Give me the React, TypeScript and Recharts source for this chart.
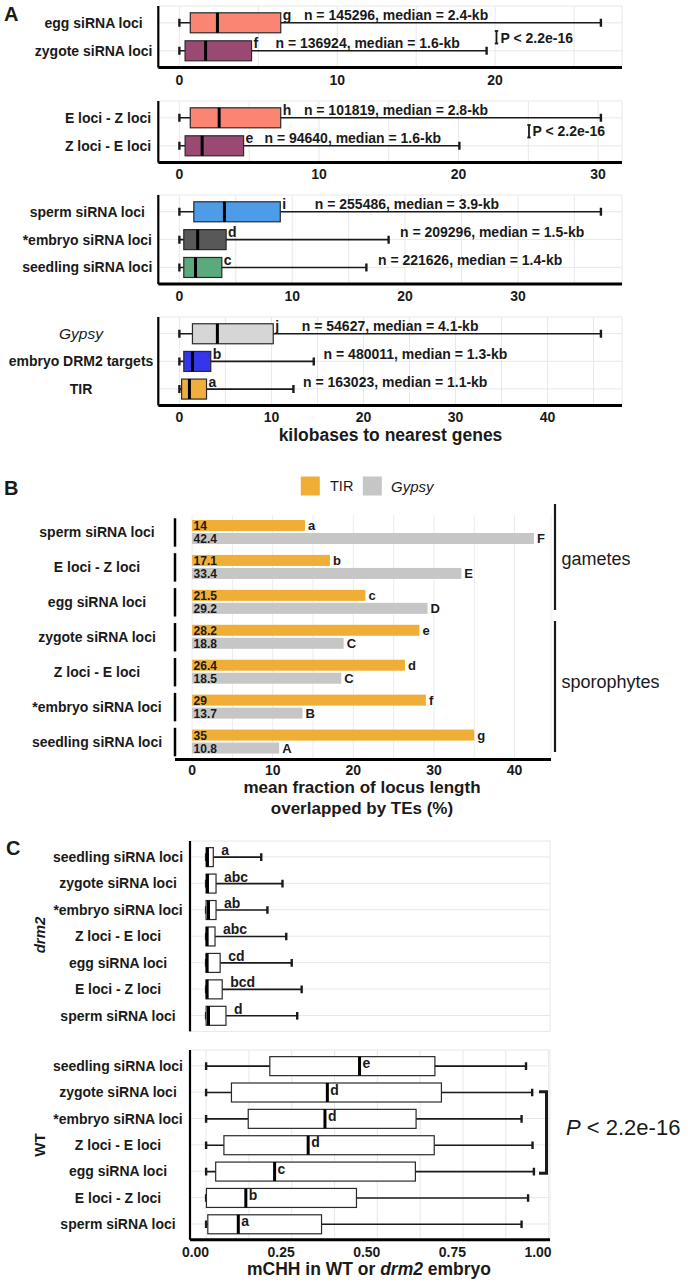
import React from 'react';
import { ComposedChart, Bar, XAxis, YAxis, CartesianGrid } from 'recharts';

const FONT = "'Liberation Sans', Arial, Helvetica, sans-serif";
const INK = '#1a1a1a';

// ---------------- Panel A : kilobases to nearest genes ----------------
const a1Cats = ['egg siRNA loci', 'zygote siRNA loci'];
const a1Low = [0, 0];
const a1Q1 = [0.69, 0.36];
const a1Median = [2.41, 1.66];
const a1Q3 = [6.42, 4.57];
const a1High = [26.7, 19.46];
const a1Letters = ['g', 'f'];
const a1Notes = ['n = 145296, median = 2.4-kb', 'n = 136924, median = 1.6-kb'];
const a1NoteKb = [7.89, 6.09];

const a2Cats = ['E loci - Z loci', 'Z loci - E loci'];
const a2Low = [0, 0];
const a2Q1 = [0.78, 0.41];
const a2Median = [2.85, 1.63];
const a2Q3 = [7.26, 4.6];
const a2High = [30.2, 20.06];
const a2Letters = ['h', 'e'];
const a2Notes = ['n = 101819, median = 2.8-kb', 'n = 94640, median = 1.6-kb'];
const a2NoteKb = [8.92, 6.1];

const a3Cats = ['sperm siRNA loci', '*embryo siRNA loci', 'seedling siRNA loci'];
const a3Low = [0, 0, 0];
const a3Q1 = [1.28, 0.39, 0.39];
const a3Median = [3.99, 1.62, 1.43];
const a3Q3 = [8.94, 4.14, 3.76];
const a3High = [37.35, 18.54, 16.57];
const a3Letters = ['i', 'd', 'c'];
const a3Notes = ['n = 255486, median = 3.9-kb', 'n = 209296, median = 1.5-kb', 'n = 221626, median = 1.4-kb'];
const a3NoteKb = [12.0, 19.55, 17.6];

const a4Cats = ['Gypsy', 'embryo DRM2 targets', 'TIR'];
const a4Low = [0, 0, 0];
const a4Q1 = [1.42, 0.48, 0.24];
const a4Median = [4.13, 1.42, 1.09];
const a4Q3 = [10.2, 3.41, 2.95];
const a4High = [45.8, 14.6, 12.39];
const a4Letters = ['j', 'b', 'a'];
const a4Notes = ['n = 54627, median = 4.1-kb', 'n = 480011, median = 1.3-kb', 'n = 163023, median = 1.1-kb'];
const a4NoteKb = [13.3, 15.67, 13.43];

const a1Ticks = [0, 5, 10, 15, 20, 25];
const a2Ticks = [0, 5, 10, 15, 20, 25, 30];
const a3Ticks = [0, 5, 10, 15, 20, 25, 30, 35];
const a4Ticks = [0, 5, 10, 15, 20, 25, 30, 35, 40, 45];
const a1TickLabels = [0, 10, 20];
const a2TickLabels = [0, 10, 20, 30];
const a3TickLabels = [0, 10, 20, 30];
const a4TickLabels = [0, 10, 20, 30, 40];

// ---------------- Panel B : TE overlap ----------------
const bCats = ['sperm siRNA loci', 'E loci - Z loci', 'egg siRNA loci', 'zygote siRNA loci', 'Z loci - E loci', '*embryo siRNA loci', 'seedling siRNA loci'];
const bTIR = [14, 17.1, 21.5, 28.2, 26.4, 29, 35];
const bGypsy = [42.4, 33.4, 29.2, 18.8, 18.5, 13.7, 10.8];
const bTIRLetters = ['a', 'b', 'c', 'e', 'd', 'f', 'g'];
const bGypsyLetters = ['F', 'E', 'D', 'C', 'C', 'B', 'A'];
const bTicks = [0, 5, 10, 15, 20, 25, 30, 35, 40];
const bTickLabels = [0, 10, 20, 30, 40];

// ---------------- Panel C : mCHH ----------------
const cCats = ['seedling siRNA loci', 'zygote siRNA loci', '*embryo siRNA loci', 'Z loci - E loci', 'egg siRNA loci', 'E loci - Z loci', 'sperm siRNA loci'];
const cDrmLow = [0, 0, 0, 0, 0, 0, 0];
const cDrmQ1 = [0, 0, 0, 0, 0, 0, 0];
const cDrmMedian = [0.004, 0.004, 0.007, 0.003, 0.003, 0.003, 0.007];
const cDrmQ3 = [0.021, 0.029, 0.029, 0.026, 0.041, 0.047, 0.058];
const cDrmHigh = [0.161, 0.223, 0.179, 0.234, 0.25, 0.279, 0.266];
const cDrmLetters = ['a', 'abc', 'ab', 'abc', 'cd', 'bcd', 'd'];
const cWtLow = [0, 0, 0, 0, 0, 0, 0];
const cWtQ1 = [0.186, 0.074, 0.123, 0.052, 0.028, 0.001, 0.005];
const cWtMedian = [0.448, 0.354, 0.347, 0.298, 0.2, 0.116, 0.094];
const cWtQ3 = [0.668, 0.687, 0.613, 0.666, 0.611, 0.439, 0.337];
const cWtHigh = [0.934, 0.952, 0.921, 0.953, 0.957, 0.94, 0.921];
const cWtLetters = ['e', 'd', 'd', 'd', 'c', 'b', 'a'];
const cTicks = [0, 0.125, 0.25, 0.375, 0.5, 0.625, 0.75, 0.875, 1];
const cTickLabels = [0, 0.25, 0.5, 0.75, 1];
const cDomain: [number, number] = [-0.047, 1.004];

// ---------------- styles ----------------
const a1Fills = ['#F98572', '#9A4A72'];
const a2Fills = ['#F98572', '#9A4A72'];
const a3Fills = ['#4C9CE8', '#585858', '#5CA97D'];
const a4Fills = ['#D6D6D6', '#3535EA', '#F2AE3C'];
const TIR_COLOR = '#F1AE36';
const GYPSY_COLOR = '#C6C6C6';

type Row = { name: string; lo: number; q1: number; med: number; q3: number; hi: number; letter: string; note?: string; noteAt?: number };

function makeRows(cats: string[], lo: number[], q1: number[], med: number[], q3: number[], hi: number[], letters: string[], notes?: string[], noteAt?: number[]): Row[] {
  return cats.map((name, i) => ({
    name, lo: lo[i], q1: q1[i], med: med[i], q3: q3[i], hi: hi[i], letter: letters[i],
    note: notes ? notes[i] : undefined, noteAt: noteAt ? noteAt[i] : undefined,
  }));
}

const expand = (max: number): [number, number] => [-0.05 * max, 1.05 * max];

function makeXTick(labels: number[], align: 'middle' | 'end', fmt: (v: number) => string, dy: number) {
  return (props: any) => {
    const { x, y, payload } = props;
    const v = payload.value;
    if (!labels.some((l) => Math.abs(l - v) < 1e-9)) return <g />;
    return (
      <text x={align === 'end' ? x + 3 : x} y={y + dy} textAnchor={align} dominantBaseline="central"
        fontFamily={FONT} fontWeight="bold" fontSize={14} fill={INK}>{fmt(v)}</text>
    );
  };
}

function makeYTick(centerX: number, italic: string[], facet?: { x: number; half: number }) {
  return (props: any) => {
    const { y, payload } = props;
    const it = italic.includes(payload.value);
    return (
      <g>
        <text x={centerX} y={y} textAnchor="middle" dominantBaseline="central" fontFamily={FONT}
          fontWeight={it ? 'normal' : 'bold'} fontStyle={it ? 'italic' : 'normal'} fontSize={it ? 15.5 : 14} fill={INK}>
          {payload.value}
        </text>
        {facet ? <line x1={facet.x} x2={facet.x} y1={y - facet.half} y2={y + facet.half} stroke="#000" strokeWidth={2.5} /> : null}
      </g>
    );
  };
}

type LetterMode = 'q3' | 'median' | 'q3gap';

function makeBoxShape(fills: string[], mode: LetterMode, capFrac: number) {
  return (props: any) => {
    const { x, y, width, height, payload, index } = props;
    const r: Row = payload;
    const px = (v: number) => x + ((v - r.lo) / (r.hi - r.lo)) * width;
    const cy = y + height / 2;
    const cap = height * capFrac;
    const xq1 = px(r.q1);
    const xq3 = px(r.q3);
    const xm = px(r.med);
    let lx = xq3 + 2;
    let ly = cy - 7.5;
    if (mode === 'median') { lx = xm + 3; ly = cy - 3; }
    if (mode === 'q3gap') { lx = xq3 + 8; ly = cy - 7; }
    return (
      <g>
        <line x1={px(r.lo)} x2={px(r.hi)} y1={cy} y2={cy} stroke={INK} strokeWidth={1.6} />
        <line x1={px(r.lo)} x2={px(r.lo)} y1={cy - cap / 2} y2={cy + cap / 2} stroke={INK} strokeWidth={2.4} />
        <line x1={px(r.hi)} x2={px(r.hi)} y1={cy - cap / 2} y2={cy + cap / 2} stroke={INK} strokeWidth={2.4} />
        <rect x={xq1} y={y} width={Math.max(xq3 - xq1, 0.5)} height={height} fill={fills[index % fills.length]} stroke="#2a2a2a" strokeWidth={1.2} />
        <line x1={xm} x2={xm} y1={y} y2={y + height} stroke="#000" strokeWidth={3} />
        <text x={lx} y={ly} dominantBaseline="central" fontFamily={FONT} fontWeight="bold" fontSize={14} fill={INK}>{r.letter}</text>
        {r.note && r.noteAt !== undefined ? (
          <text x={px(r.noteAt)} y={cy - 7.5} dominantBaseline="central" fontFamily={FONT} fontWeight="bold" fontSize={14} fill={INK}>{r.note}</text>
        ) : null}
      </g>
    );
  };
}

type BoxProps = {
  rows: Row[]; plotTop: number; plotBottom: number; pitch: number; plotLeft: number; plotRight: number;
  domain: [number, number]; ticks: number[]; tickLabels: number[]; tickAlign: 'middle' | 'end'; fmt: (v: number) => string;
  labelCenter: number; fills: string[]; boxSize: number; showAxis: boolean; mode: LetterMode; italic?: string[]; tickDy: number;
};

function BoxChart(p: BoxProps) {
  const topM = 4;
  const axisH = p.showAxis ? 30 : 1;
  const H = p.plotBottom - p.plotTop + topM + axisH;
  return (
    <div style={{ position: 'absolute', left: 0, top: p.plotTop - topM }}>
      <ComposedChart width={692} height={H} data={p.rows} layout="vertical"
        margin={{ top: topM, right: 692 - p.plotRight, bottom: 0, left: 0 }}>
        <CartesianGrid stroke="#e8e8e8" strokeWidth={1} />
        <XAxis type="number" domain={p.domain} ticks={p.ticks} interval={0} allowDataOverflow height={axisH}
          axisLine={p.showAxis ? { stroke: '#000', strokeWidth: 3 } : false} tickLine={false} tickSize={0} tickMargin={0}
          tick={p.showAxis ? makeXTick(p.tickLabels, p.tickAlign, p.fmt, p.tickDy) : false} />
        <YAxis type="category" dataKey="name" width={p.plotLeft} padding={{ top: 0.1 * p.pitch, bottom: 0.1 * p.pitch }}
          axisLine={{ stroke: '#000', strokeWidth: 2.2 }} tickLine={false} tickSize={0} tickMargin={0} interval={0}
          tick={makeYTick(p.labelCenter, p.italic || [])} />
        <Bar dataKey={(d: Row) => [d.lo, d.hi]} barSize={p.boxSize} isAnimationActive={false}
          shape={makeBoxShape(p.fills, p.mode, 0.4)} />
      </ComposedChart>
    </div>
  );
}

function makeTeBar(key: 'tir' | 'gypsy', letters: string[]) {
  return (props: any) => {
    const { x, y, width, height, payload, index, fill } = props;
    const cy = y + height / 2;
    return (
      <g>
        <rect x={x} y={y} width={width} height={height} fill={fill} />
        <text x={x + 1.5} y={cy + 0.5} dominantBaseline="central" fontFamily={FONT} fontWeight="bold" fontSize={12} fill={INK}>{payload[key]}</text>
        <text x={x + width + 3} y={cy} dominantBaseline="central" fontFamily={FONT} fontWeight="bold" fontSize={13} fill={INK}>{letters[index]}</text>
      </g>
    );
  };
}

function TeChart() {
  const data = bCats.map((name, i) => ({ name, tir: bTIR[i], gypsy: bGypsy[i] }));
  const plotTop = 514.5;
  const plotBottom = 759;
  const topM = 4;
  const axisH = 24;
  const plotLeft = 175;
  const plotRight = 551;
  return (
    <div style={{ position: 'absolute', left: 0, top: plotTop - topM }}>
      <ComposedChart width={692} height={plotBottom - plotTop + topM + axisH} data={data} layout="vertical" barGap={2} barCategoryGap={0}
        margin={{ top: topM, right: 692 - plotRight, bottom: 0, left: 0 }}>
        <CartesianGrid stroke="#ececec" horizontal={false} />
        <XAxis type="number" domain={expand(Math.max(...bGypsy, ...bTIR))} ticks={bTicks} interval={0} allowDataOverflow height={axisH}
          axisLine={{ stroke: '#000', strokeWidth: 3 }} tickLine={false} tickSize={0} tickMargin={0}
          tick={makeXTick(bTickLabels, 'middle', (v) => String(v), 10)} />
        <YAxis type="category" dataKey="name" width={plotLeft} axisLine={false} tickLine={false} tickSize={0} tickMargin={0} interval={0}
          tick={makeYTick(97, [], { x: plotLeft, half: 14.2 })} />
        <Bar dataKey="tir" fill={TIR_COLOR} barSize={11} isAnimationActive={false} shape={makeTeBar('tir', bTIRLetters)} />
        <Bar dataKey="gypsy" fill={GYPSY_COLOR} barSize={11} isAnimationActive={false} shape={makeTeBar('gypsy', bGypsyLetters)} />
      </ComposedChart>
    </div>
  );
}

function Overlay() {
  const t = { fontFamily: FONT, fill: INK } as const;
  return (
    <svg width={692} height={1280} style={{ position: 'absolute', left: 0, top: 0, pointerEvents: 'none' }}>
      {/* panel letters */}
      <text x={4} y={13.5} dominantBaseline="central" fontSize={20} fontWeight="bold" {...t}>A</text>
      <text x={4} y={487.5} dominantBaseline="central" fontSize={20} fontWeight="bold" {...t}>B</text>
      <text x={6} y={847.5} dominantBaseline="central" fontSize={20} fontWeight="bold" {...t}>C</text>

      {/* panel A p-values */}
      <g stroke={INK} strokeWidth={1.8}>
        <line x1={496.5} x2={496.5} y1={31} y2={43.5} />
        <line x1={494.8} x2={498.2} y1={31} y2={31} />
        <line x1={494.8} x2={498.2} y1={43.5} y2={43.5} />
        <line x1={529} x2={529} y1={125} y2={137.5} />
        <line x1={527.3} x2={530.7} y1={125} y2={125} />
        <line x1={527.3} x2={530.7} y1={137.5} y2={137.5} />
      </g>
      <text x={500.5} y={37.5} dominantBaseline="central" fontSize={14} fontWeight="bold" {...t}>P &lt; 2.2e-16</text>
      <text x={532.5} y={131} dominantBaseline="central" fontSize={14} fontWeight="bold" {...t}>P &lt; 2.2e-16</text>
      <text x={390.5} y={435} textAnchor="middle" dominantBaseline="central" fontSize={17.5} fontWeight="bold" {...t}>kilobases to nearest genes</text>

      {/* panel B legend */}
      <rect x={300.8} y={476.5} width={19} height={19} fill={TIR_COLOR} />
      <text x={330} y={486} dominantBaseline="central" fontSize={14.5} {...t}>TIR</text>
      <rect x={362.8} y={476.5} width={19} height={19} fill={GYPSY_COLOR} />
      <text x={391} y={486} dominantBaseline="central" fontSize={15} fontStyle="italic" {...t}>Gypsy</text>

      {/* panel B group brackets */}
      <line x1={555} x2={555} y1={504} y2={610} stroke={INK} strokeWidth={2.2} />
      <line x1={555} x2={555} y1={621} y2={752} stroke={INK} strokeWidth={2.2} />
      <text x={561.5} y={559.3} dominantBaseline="central" fontSize={18} {...t}>gametes</text>
      <text x={561.5} y={682.3} dominantBaseline="central" fontSize={18} {...t}>sporophytes</text>
      <text x={362} y={787.5} textAnchor="middle" dominantBaseline="central" fontSize={17} fontWeight="bold" {...t}>mean fraction of locus length</text>
      <text x={362} y={808} textAnchor="middle" dominantBaseline="central" fontSize={17} fontWeight="bold" {...t}>overlapped by TEs (%)</text>

      {/* panel C facet labels */}
      <text x={39.5} y={935} transform="rotate(-90 39.5 935)" textAnchor="middle" dominantBaseline="central" fontSize={15} fontStyle="italic" fontWeight="bold" {...t}>drm2</text>
      <text x={39.5} y={1145} transform="rotate(-90 39.5 1145)" textAnchor="middle" dominantBaseline="central" fontSize={15} fontWeight="bold" {...t}>WT</text>

      {/* panel C bracket */}
      <g stroke={INK} strokeWidth={3} fill="none">
        <polyline points="539,1091.7 546.5,1091.7 546.5,1173.3 539,1173.3" />
      </g>
      <text x={566} y={1127} dominantBaseline="central" fontSize={22} {...t}><tspan fontStyle="italic">P</tspan> &lt; 2.2e-16</text>
      <text x={369} y={1269} textAnchor="middle" dominantBaseline="central" fontSize={17.5} fontWeight="bold" {...t}>
        mCHH in WT or <tspan fontStyle="italic">drm2</tspan> embryo
      </text>
    </svg>
  );
}

export default function App() {
  const a1 = makeRows(a1Cats, a1Low, a1Q1, a1Median, a1Q3, a1High, a1Letters, a1Notes, a1NoteKb);
  const a2 = makeRows(a2Cats, a2Low, a2Q1, a2Median, a2Q3, a2High, a2Letters, a2Notes, a2NoteKb);
  const a3 = makeRows(a3Cats, a3Low, a3Q1, a3Median, a3Q3, a3High, a3Letters, a3Notes, a3NoteKb);
  const a4 = makeRows(a4Cats, a4Low, a4Q1, a4Median, a4Q3, a4High, a4Letters, a4Notes, a4NoteKb);
  const cd = makeRows(cCats, cDrmLow, cDrmQ1, cDrmMedian, cDrmQ3, cDrmHigh, cDrmLetters);
  const cw = makeRows(cCats, cWtLow, cWtQ1, cWtMedian, cWtQ3, cWtHigh, cWtLetters);
  const intFmt = (v: number) => String(v);
  const decFmt = (v: number) => v.toFixed(2);
  const common = { plotLeft: 158.3, plotRight: 622, tickAlign: 'middle' as const, fmt: intFmt, boxSize: 20, showAxis: true, mode: 'q3' as LetterMode };
  return (
    <div style={{ position: 'absolute', left: 0, top: 0, width: 692, height: 1280, background: '#fff', overflow: 'hidden' }}>
      <BoxChart {...common} rows={a1} plotTop={6.2} plotBottom={67.8} pitch={28} domain={expand(Math.max(...a1High))}
        ticks={a1Ticks} tickLabels={a1TickLabels} labelCenter={93.6} fills={a1Fills} tickDy={12} />
      <BoxChart {...common} rows={a2} plotTop={101.2} plotBottom={162.8} pitch={28} domain={expand(Math.max(...a2High))}
        ticks={a2Ticks} tickLabels={a2TickLabels} labelCenter={108} fills={a2Fills} tickDy={11} />
      <BoxChart {...common} rows={a3} plotTop={195.3} plotBottom={284.4} pitch={27.85} domain={expand(Math.max(...a3High))}
        ticks={a3Ticks} tickLabels={a3TickLabels} labelCenter={87.3} fills={a3Fills} tickDy={11.5} />
      <BoxChart {...common} rows={a4} plotTop={317.1} plotBottom={405.6} pitch={27.65} domain={expand(Math.max(...a4High))}
        ticks={a4Ticks} tickLabels={a4TickLabels} labelCenter={81} fills={a4Fills} tickDy={11.5} italic={['Gypsy']} />
      <TeChart />
      <BoxChart rows={cd} plotTop={840.8} plotBottom={1031.2} pitch={26.43} plotLeft={190} plotRight={550} domain={cDomain}
        ticks={cTicks} tickLabels={cTickLabels} tickAlign="end" fmt={decFmt} labelCenter={118} fills={['#ffffff']} boxSize={19}
        showAxis={false} mode="q3gap" tickDy={12} />
      <BoxChart rows={cw} plotTop={1049.8} plotBottom={1239.6} pitch={26.43} plotLeft={190} plotRight={550} domain={cDomain}
        ticks={cTicks} tickLabels={cTickLabels} tickAlign="end" fmt={decFmt} labelCenter={118} fills={['#ffffff']} boxSize={19}
        showAxis={true} mode="median" tickDy={12.4} />
      <Overlay />
    </div>
  );
}
